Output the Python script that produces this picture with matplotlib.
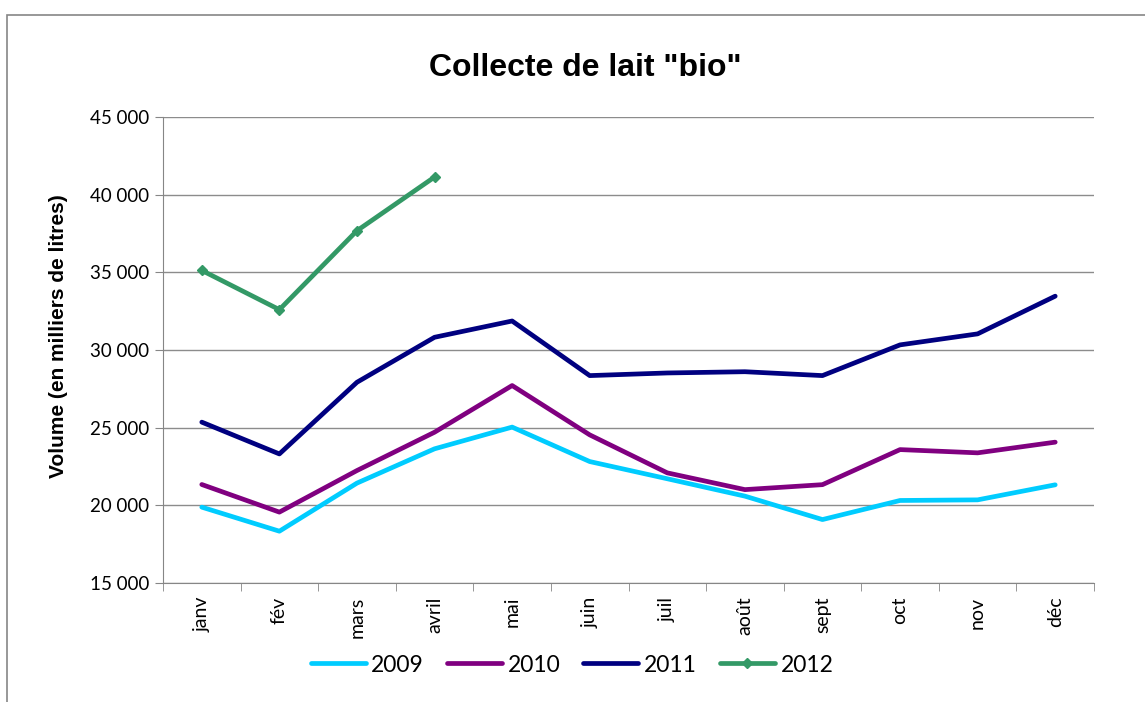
import matplotlib
matplotlib.use("Agg")
from matplotlib import pyplot as plt
from matplotlib.ticker import FuncFormatter, FixedLocator
from matplotlib.patches import Rectangle

# données (milliers de litres)
mois = ['janv', 'fév', 'mars', 'avril', 'mai', 'juin', 'juil', 'août', 'sept', 'oct', 'nov', 'déc']
v2009 = [19870, 18320, 21420, 23630, 25030, 22810, 21700, 20580, 19070, 20300, 20340, 21310]
v2010 = [21330, 19550, 22230, 24700, 27710, 24530, 22080, 21000, 21320, 23580, 23370, 24060]
v2011 = [25350, 23300, 27920, 30820, 31870, 28350, 28520, 28600, 28350, 30330, 31040, 33470]
v2012 = [35130, 32600, 37690, 41150]

couleurs = {'2009': '#00CCFF', '2010': '#800080', '2011': '#000080', '2012': '#339966'}

fig = plt.figure(figsize=(11.45, 7.02), dpi=100)
ax = fig.add_axes([163/1145, 1-582.7/702, (1094-163)/1145, (582.7-117.3)/702])

x = list(range(len(mois)))
ax.plot(x, v2009, c=couleurs['2009'], lw=3.4, label='2009', solid_capstyle='round')
ax.plot(x, v2010, c=couleurs['2010'], lw=3.4, label='2010', solid_capstyle='round')
ax.plot(x, v2011, c=couleurs['2011'], lw=3.4, label='2011', solid_capstyle='round')
ax.plot(x[:len(v2012)], v2012, c=couleurs['2012'], lw=3.4, label='2012',
        marker='D', markersize=5.5, solid_capstyle='round')

ax.set_xlim(-0.5, 11.5)
ax.set_ylim(15000, 45000)
ax.set_yticks(range(15000, 45001, 5000))
ax.yaxis.set_major_formatter(FuncFormatter(lambda v, p: f"{v:,.0f}".replace(",", " ")))
ax.grid(axis='y', color='#8c8c8c', lw=1)
ax.set_axisbelow(True)

# étiquettes au centre, graduations entre les catégories
ax.set_xticks(x)
ax.set_xticklabels(mois, rotation=90, fontfamily='Lato', fontsize=14)
ax.xaxis.set_minor_locator(FixedLocator([i - 0.5 for i in range(13)]))
ax.tick_params(axis='x', which='major', length=0, pad=10)
ax.tick_params(axis='x', which='minor', length=6, color='#868686', direction='out')
ax.tick_params(axis='y', length=6, color='#868686', labelsize=13.5, pad=4)
for lab in ax.get_yticklabels():
    lab.set_fontfamily('Lato')

for s in ['top', 'right']:
    ax.spines[s].set_visible(False)
for s in ['left', 'bottom']:
    ax.spines[s].set_color('#868686')

fig.text(585/1145, 1-68/702, 'Collecte de lait "bio"', ha='center', va='center',
         fontsize=23, fontweight='bold', fontfamily='Liberation Sans')
fig.text(58/1145, 1-336/702, 'Volume (en milliers de litres)', rotation=90,
         ha='center', va='center', fontsize=15, fontweight='bold',
         fontfamily='Liberation Sans')

fig.legend(loc='center', bbox_to_anchor=(572/1145, 1-665/702), ncol=4, frameon=False,
           prop={'family': 'Lato', 'size': 16.5}, handlelength=2.4,
           handletextpad=0.25, columnspacing=1.0)

# cadre du graphique
fig.add_artist(Rectangle((7/1145, -0.05), 1.2, 1.05-15/702, transform=fig.transFigure,
                         fill=False, edgecolor='#868686', lw=1.2))

fig.savefig('out.png', dpi=100)
